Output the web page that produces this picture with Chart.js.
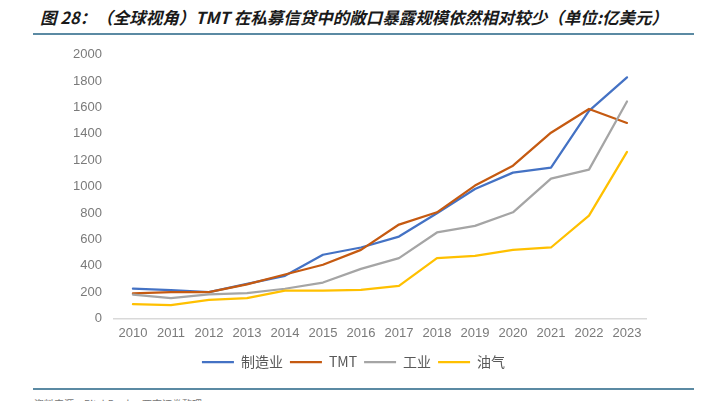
<!DOCTYPE html>
<html>
<head>
<meta charset="utf-8">
<script src="https://cdn.jsdelivr.net/npm/chart.js@4/dist/chart.umd.min.js"></script>
<style>
  html, body { margin: 0; padding: 0; background: #ffffff; }
  body { width: 709px; height: 401px; position: relative; overflow: hidden; }
  #title { position: absolute; left: 40px; top: 5px; font-family: "Noto Sans CJK SC", sans-serif; font-weight: bold; font-style: italic; font-size: 16.5px; color: #1a1a1a; white-space: nowrap; letter-spacing: 0px; }
  .rule { position: absolute; left: 33px; width: 661px; height: 2px; background: #5b8aa3; }
  #footer { position: absolute; left: 34px; top: 396px; font-family: "Noto Sans CJK SC", sans-serif; font-size: 10px; color: #777; white-space: nowrap; }
  #wrap { position: absolute; left: 0; top: 35px; width: 709px; height: 350px; }
</style>
</head>
<body>
<div id="title">图 28：（全球视角）TMT 在私募信贷中的敞口暴露规模依然相对较少（单位:亿美元）</div>
<div class="rule" style="top:33px"></div>
<div id="wrap"><canvas id="c"></canvas></div>
<div class="rule" style="top:388px"></div>
<div id="footer">资料来源：PitchBook，西南证券整理</div>
<script>
const categories = ["2010","2011","2012","2013","2014","2015","2016","2017","2018","2019","2020","2021","2022","2023"];
const seriesNames = ["制造业", "TMT", "工业", "油气"];
const manufacturing = [225, 215, 200, 262, 323, 483, 538, 621, 798, 982, 1106, 1144, 1575, 1829];
const tmt = [189, 200, 200, 258, 333, 407, 520, 712, 805, 1008, 1159, 1409, 1589, 1483];
const industrial = [180, 154, 183, 192, 225, 272, 376, 457, 652, 702, 805, 1061, 1129, 1646];
const oilGas = [108, 100, 141, 154, 210, 210, 217, 247, 457, 475, 520, 538, 780, 1263];
const yTickMax = 2000;
const yTickStep = 200;

const colors = ["#4472C4", "#C55A11", "#A5A5A5", "#FFC000"];
const values = [manufacturing, tmt, industrial, oilGas];

const datasets = values.map((v, i) => ({
  label: seriesNames[i],
  data: v,
  borderColor: colors[i],
  backgroundColor: colors[i],
  borderWidth: 2.25,
  pointRadius: 0,
  pointHoverRadius: 0,
  tension: 0,
  fill: false,
  borderCapStyle: 'round',
  borderJoinStyle: 'round',
  pointStyle: 'line',
  order: 3 - i
}));

new Chart(document.getElementById('c'), {
  type: 'line',
  data: { labels: categories, datasets },
  options: {
    responsive: true,
    maintainAspectRatio: false,
    animation: false,
    layout: { padding: { left: 61, right: 63, top: 0, bottom: 6 } },
    plugins: {
      tooltip: { enabled: false },
      legend: {
        position: 'bottom',
        labels: {
          usePointStyle: true,
          pointStyleWidth: 32,
          font: { family: "Noto Sans CJK SC", size: 14 },
          color: '#595959',
          padding: 7,
          sort: (a, b) => a.datasetIndex - b.datasetIndex
        }
      }
    },
    scales: {
      x: {
        offset: true,
        grid: { display: false, drawTicks: false },
        border: { display: true, color: '#d9d9d9', width: 1.5 },
        ticks: { color: '#7a7a7a', font: { family: "Liberation Sans", size: 13 }, padding: 7, maxRotation: 0, autoSkip: false }
      },
      y: {
        min: 0,
        max: yTickMax,
        grid: { display: false, drawTicks: false },
        border: { display: false },
        ticks: { stepSize: yTickStep, color: '#7a7a7a', font: { family: "Liberation Sans", size: 13 }, padding: 12, callback: (v) => String(v) }
      }
    }
  }
});
</script>
</body>
</html>
